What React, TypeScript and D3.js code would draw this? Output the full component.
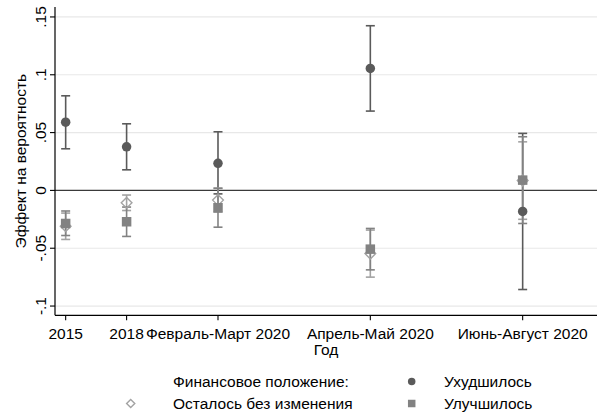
import React from "react";
import * as d3 from "d3";

// Periods of observation and their positions on the horizontal axis
const periods = ["2015", "2018", "Февраль-Март 2020", "Апрель-Май 2020", "Июнь-Август 2020"];
const periodPos = [0, 2, 5, 10, 15];

// Marginal effects with 95% confidence bounds
const worsened = [0.059, 0.0377, 0.0234, 0.1055, -0.0182];
const worsenedLo = [0.036, 0.0178, -0.003, 0.0686, -0.0857];
const worsenedHi = [0.0818, 0.0576, 0.0507, 0.1424, 0.0493];

const unchanged = [-0.031, -0.0107, -0.0084, -0.0546, 0.0085];
const unchangedLo = [-0.0424, -0.0174, -0.0188, -0.075, -0.025];
const unchangedHi = [-0.0196, -0.004, 0.002, -0.0343, 0.042];

const improved = [-0.0286, -0.0271, -0.015, -0.0508, 0.0089];
const improvedLo = [-0.039, -0.0398, -0.0318, -0.0687, -0.0286];
const improvedHi = [-0.0178, -0.0144, 0.0018, -0.0329, 0.0464];

const yTicks = [-0.1, -0.05, 0, 0.05, 0.1, 0.15];
const yTickLabels = ["-.1", "-.05", "0", ".05", ".1", ".15"];

const legendTitle = "Финансовое положение:";
const seriesNames = ["Ухудшилось", "Осталось без изменения", "Улучшилось"];

const W = 598;
const H = 414;
const FONT = "'Liberation Sans', Arial, sans-serif";
const FS = 15.5;

const colWorse = "#5a5a5a";
const colSame = "#a3a3a3";
const colBetter = "#828282";

export default function App() {
  const left = 55;
  const right = 597;
  const top = 7;
  const bottom = 315.3;

  const x = d3.scaleLinear().domain([-0.35, 17.44]).range([left, right]);
  const y = d3.scaleLinear().domain([-0.108, 0.1586]).range([bottom, top]);

  const series = [
    { vals: worsened, lo: worsenedLo, hi: worsenedHi, color: colWorse, shape: "circle" },
    { vals: unchanged, lo: unchangedLo, hi: unchangedHi, color: colSame, shape: "diamond" },
    { vals: improved, lo: improvedLo, hi: improvedHi, color: colBetter, shape: "square" },
  ];

  const marker = (shape: string, cx: number, cy: number, color: string, s: number, key: string) => {
    if (shape === "circle") return <circle key={key} cx={cx} cy={cy} r={s / 2} fill={color} />;
    if (shape === "square")
      return <rect key={key} x={cx - s / 2} y={cy - s / 2} width={s} height={s} fill={color} />;
    const h = s / 2 + 0.6;
    return (
      <path
        key={key}
        d={`M${cx},${cy - h}L${cx + h},${cy}L${cx},${cy + h}L${cx - h},${cy}Z`}
        fill="none"
        stroke={color}
        strokeWidth={1.4}
      />
    );
  };

  const capW = 4.5;

  return (
    <svg width={W} height={H} style={{ position: "absolute", left: 0, top: 0, background: "#fff" }}>
      <style>{`body{margin:0}`}</style>
      <rect x={0} y={0} width={W} height={H} fill="#fff" />

      {/* grid lines */}
      {yTicks
        .filter((t) => t !== 0)
        .map((t) => (
          <line key={`g${t}`} x1={left} x2={right} y1={y(t)} y2={y(t)} stroke="#e8e8e8" strokeWidth={1.2} />
        ))}
      {/* reference line at zero */}
      <line x1={left} x2={right} y1={y(0)} y2={y(0)} stroke="#3a3a3a" strokeWidth={1.2} />

      {/* axes */}
      <line x1={left} x2={left} y1={top} y2={bottom} stroke="#000" strokeWidth={1.2} />
      <line x1={left} x2={right} y1={bottom} y2={bottom} stroke="#000" strokeWidth={1.2} />

      {yTicks.map((t, i) => (
        <g key={`yt${t}`}>
          <line x1={left - 5} x2={left} y1={y(t)} y2={y(t)} stroke="#000" strokeWidth={1.1} />
          <text
            transform={`translate(${40},${y(t)}) rotate(-90)`}
            textAnchor="middle"
            dominantBaseline="central"
            fontFamily={FONT}
            fontSize={FS}
            fill="#000"
          >
            {yTickLabels[i]}
          </text>
        </g>
      ))}

      {periods.map((p, i) => (
        <g key={`xt${i}`}>
          <line x1={x(periodPos[i])} x2={x(periodPos[i])} y1={bottom} y2={bottom + 5} stroke="#000" strokeWidth={1.1} />
          <text
            x={x(periodPos[i])}
            y={333.5}
            textAnchor="middle"
            dominantBaseline="central"
            fontFamily={FONT}
            fontSize={FS}
            fill="#000"
          >
            {p}
          </text>
        </g>
      ))}

      <text
        x={(left + right) / 2}
        y={349.5}
        textAnchor="middle"
        dominantBaseline="central"
        fontFamily={FONT}
        fontSize={FS}
        fill="#000"
      >
        Год
      </text>
      <text
        transform={`translate(${20},${(top + bottom) / 2}) rotate(-90)`}
        textAnchor="middle"
        dominantBaseline="central"
        fontFamily={FONT}
        fontSize={FS}
        fill="#000"
      >
        Эффект на вероятность
      </text>

      {/* confidence intervals */}
      {series.map((s, si) =>
        periodPos.map((pp, i) => {
          const cx = x(pp);
          return (
            <g key={`ci${si}-${i}`} stroke={s.color} strokeWidth={1.6}>
              <line x1={cx} x2={cx} y1={y(s.lo[i])} y2={y(s.hi[i])} />
              <line x1={cx - capW} x2={cx + capW} y1={y(s.lo[i])} y2={y(s.lo[i])} />
              <line x1={cx - capW} x2={cx + capW} y1={y(s.hi[i])} y2={y(s.hi[i])} />
            </g>
          );
        })
      )}

      {/* point estimates */}
      {series.map((s, si) =>
        periodPos.map((pp, i) => marker(s.shape, x(pp), y(s.vals[i]), s.color, 9.5, `m${si}-${i}`))
      )}

      {/* legend */}
      <text x={173} y={381.5} dominantBaseline="central" fontFamily={FONT} fontSize={FS} fill="#000">
        {legendTitle}
      </text>
      {marker("circle", 411.7, 381.5, colWorse, 7.5, "lg1")}
      <text x={444} y={381.5} dominantBaseline="central" fontFamily={FONT} fontSize={FS} fill="#000">
        {seriesNames[0]}
      </text>
      {marker("diamond", 130.7, 403.5, colSame, 7, "lg2")}
      <text x={173} y={403.5} dominantBaseline="central" fontFamily={FONT} fontSize={FS} fill="#000">
        {seriesNames[1]}
      </text>
      {marker("square", 411.7, 403.5, colBetter, 7.5, "lg3")}
      <text x={444} y={403.5} dominantBaseline="central" fontFamily={FONT} fontSize={FS} fill="#000">
        {seriesNames[2]}
      </text>
    </svg>
  );
}
